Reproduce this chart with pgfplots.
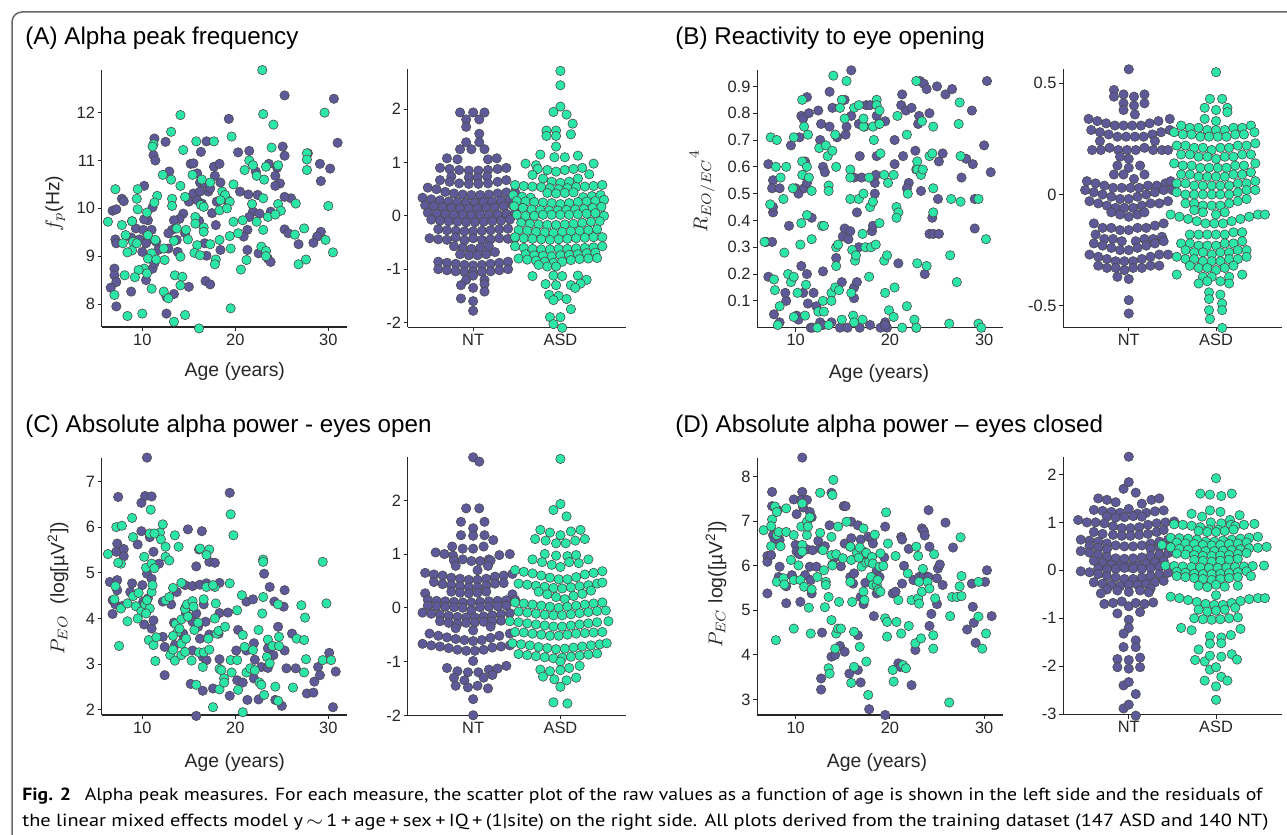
\documentclass[border=0pt]{standalone}
\usepackage{fontspec}
\setmainfont{Liberation Sans}
\newfontfamily\capfont{PT Sans}
\usepackage{graphicx}
\usepackage{pgfplots}
\pgfplotsset{compat=1.18}
\definecolor{ntpurple}{RGB}{94,89,153}
\definecolor{asdgreen}{RGB}{44,230,168}
\definecolor{axgray}{RGB}{38,38,38}

\pgfplotsset{
  panel/.style={scale only axis, anchor=south west, axis lines*=left,
    axis line style={-, axgray, line width=0.6pt},
    every tick/.style={axgray, line width=0.5pt},
    tick align=outside, major tick length=2pt, clip=false, enlargelimits=false,
    ticklabel style={font=\fontsize{8.2}{9}\selectfont, text=axgray, inner sep=1.2pt},
    xlabel style={font=\fontsize{9.7}{11}\selectfont, text=axgray, anchor=center},
    ylabel style={font=\fontsize{9.7}{11}\selectfont, text=axgray, anchor=center}},
  scat/.style={panel, width=122.6pt, height=128.7pt, xtick={10,20,30}, xticklabels={10,20,30}},
  swarm/.style={panel, width=109.1pt, height=129pt, xmin=0.25, xmax=2.75,
    xtick={1,2}, xticklabels={NT,ASD}},
  nt/.style={only marks, mark=*, mark size=2.35pt,
    mark options={fill=ntpurple, draw=black!70, line width=0.3pt}},
  asd/.style={only marks, mark=*, mark size=2.35pt,
    mark options={fill=asdgreen, draw=black!70, line width=0.3pt}},
}

\begin{document}
\begin{tikzpicture}
\path[use as bounding box] (0,0) rectangle (643.5pt,417.5pt);
\draw[black!60, line width=0.75pt, rounded corners=5pt] (6pt,0pt) -- (6pt,411.5pt) -- (643.5pt,411.5pt);

% titles
\node[anchor=base west, inner sep=0, font=\fontsize{12.1}{14}\selectfont] at (12.5pt,395.3pt) {(A) Alpha peak frequency};
\node[anchor=base west, inner sep=0, font=\fontsize{12.1}{14}\selectfont] at (337.5pt,395.3pt) {(B) Reactivity to eye opening};
\node[anchor=base west, inner sep=0, font=\fontsize{12.1}{14}\selectfont] at (12.5pt,201.4pt) {(C) Absolute alpha power - eyes open};
\node[anchor=base west, inner sep=0, font=\fontsize{12.1}{14}\selectfont] at (337.5pt,201.4pt) {(D) Absolute alpha power -- eyes closed};

% ---------- (A) scatter
\begin{axis}[scat, at={(50.85pt,254pt)}, xmin=5.63, xmax=32, ymin=7.52, ymax=12.9,
  ytick={8,9,10,11,12}, yticklabels={8,9,10,11,12},
  xlabel={Age (years)}, xlabel style={at={(axis description cs:0.543,-0.172)}},
  ylabel={$f_p$(Hz)}, ylabel style={at={(axis description cs:-0.19,0.48)}}]
\addplot[nt] coordinates {
(25.3,12.36)(30.6,12.29)(31.0,11.37)(19.3,11.87)(11.3,11.46)(12.5,11.39)(16.9,11.4)(16.3,11.18)
(11.2,11.11)(11.4,11.0)(20.3,11.17)(21.5,11.2)(25.3,11.1)(25.1,11.29)(27.8,11.15)(29.1,10.93)
(30.2,10.83)(29.2,10.57)(15.2,10.93)(15.5,10.94)(17.7,10.87)(18.3,10.93)(23.6,10.93)(24.5,10.85)
(12.9,10.77)(15.9,10.73)(17.8,10.68)(22.2,10.77)(24.3,10.68)(10.2,10.47)(18.4,10.54)(16.2,10.54)
(16.7,10.52)(24.8,10.52)(24.3,10.47)(17.1,10.35)(15.5,10.31)(16.2,10.35)(20.5,10.35)(21.4,10.29)
(22.4,10.28)(26.0,10.21)(25.3,10.24)(7.8,10.2)(8.0,10.15)(15.0,10.14)(15.9,10.17)(16.4,10.1)
(18.0,10.14)(19.2,10.17)(17.3,10.42)(6.8,9.95)(7.2,9.98)(11.1,10.02)(14.4,9.89)(17.5,9.9)
(21.9,9.93)(22.6,9.89)(23.8,9.93)(10.6,9.75)(10.2,9.77)(14.0,9.78)(13.4,9.75)(8.9,9.73)
(16.1,9.74)(21.5,9.82)(9.3,9.58)(10.1,9.55)(11.0,9.55)(13.2,9.55)(17.9,9.65)(25.3,9.56)
(25.7,9.48)(21.3,9.55)(20.9,9.41)(29.2,9.51)(28.8,9.41)(28.4,9.28)(8.8,9.39)(9.7,9.35)
(10.7,9.35)(12.8,9.48)(14.6,9.48)(7.1,9.35)(7.2,9.27)(10.4,9.27)(11.5,9.3)(13.7,9.34)
(16.7,9.27)(18.4,9.13)(26.8,9.25)(21.3,9.13)(22.5,9.06)(11.7,9.13)(12.8,9.16)(10.0,9.09)
(16.9,9.01)(23.5,8.95)(23.8,8.88)(13.8,9.09)(7.0,8.74)(7.0,8.6)(7.2,8.46)(6.6,8.34)
(10.4,8.5)(16.8,8.48)(17.3,8.41)(15.0,8.36)(8.8,8.26)(13.4,8.21)(12.6,8.15)(7.2,7.95)
(12.6,7.8)(11.1,8.74)(11.3,8.85)
};
\addplot[asd] coordinates {
(22.9,12.89)(14.1,11.95)(23.0,11.97)(29.6,12.0)(24.1,11.75)(13.1,11.6)(19.6,11.5)(11.2,11.34)
(11.1,11.29)(15.8,11.4)(17.7,11.4)(23.9,11.27)(14.4,11.22)(21.5,11.0)(27.7,11.15)(27.7,11.02)
(21.9,10.9)(23.3,10.87)(24.6,10.9)(21.0,10.8)(27.7,10.8)(12.2,10.7)(15.4,10.7)(22.3,10.68)
(16.4,10.6)(13.1,10.6)(17.3,10.54)(23.1,10.6)(14.1,10.47)(7.1,10.4)(9.5,10.4)(18.6,10.35)
(19.8,10.5)(18.9,10.28)(13.2,10.2)(9.4,10.2)(11.6,10.26)(11.3,10.12)(14.6,10.24)(18.4,10.17)
(19.4,10.14)(16.3,10.07)(21.8,10.09)(23.0,10.21)(24.6,10.09)(26.5,10.1)(30.0,10.05)(13.2,10.05)
(16.6,10.03)(18.3,9.96)(19.1,10.0)(24.9,9.95)(9.5,9.98)(10.5,9.91)(6.3,9.72)(8.9,9.73)
(7.8,9.65)(15.7,9.82)(15.7,9.68)(19.8,9.72)(20.8,9.75)(22.3,9.72)(23.5,9.82)(24.3,9.87)
(13.7,9.58)(14.7,9.55)(16.6,9.6)(16.6,9.51)(23.0,9.55)(27.4,9.58)(8.2,9.44)(10.6,9.44)
(11.4,9.34)(9.0,9.3)(13.4,9.32)(14.9,9.35)(15.9,9.23)(18.3,9.34)(17.3,9.25)(19.4,9.42)
(20.3,9.48)(26.4,9.45)(29.7,9.34)(7.9,9.27)(8.9,9.12)(8.4,9.08)(9.4,9.27)(12.3,9.16)
(11.0,9.06)(15.6,9.07)(16.2,9.02)(19.5,9.16)(22.8,9.2)(23.3,9.11)(23.3,9.0)(10.6,8.95)
(11.5,8.93)(12.4,8.92)(14.1,8.99)(17.9,8.93)(17.8,8.83)(27.6,8.93)(26.8,8.83)(30.5,9.08)
(20.6,8.72)(21.2,8.92)(10.2,8.74)(10.5,8.64)(9.6,8.71)(13.5,8.6)(14.3,8.57)(9.2,8.56)
(8.1,8.6)(14.1,8.39)(11.0,8.32)(12.3,8.26)(12.8,8.12)(7.0,8.19)(8.4,7.75)(10.0,7.8)
(13.4,7.63)(14.6,7.77)(16.1,7.49)(19.5,7.91)
};
\end{axis}

% ---------- (A) swarm
\begin{axis}[swarm, at={(203.85pt,253.85pt)}, ymin=-2.09, ymax=2.75,
  ytick={-2,-1,0,1,2}, yticklabels={-2,-1,0,1,2}]
\addplot[nt] coordinates {
(0.85,1.94)(1.0,1.94)(1.13,1.94)(0.92,1.81)(1.07,1.81)(0.92,1.67)(1.07,1.54)(0.92,1.38)(1.07,1.38)
(0.85,1.25)(0.98,1.25)(1.13,1.25)(0.7,1.08)(0.82,1.06)(1.17,1.06)(1.27,1.08)
(0.62,0.9)(0.73,0.88)(0.84,0.86)(0.95,0.85)(1.06,0.85)(1.17,0.86)(1.28,0.88)(1.38,0.9)
(0.75,0.74)(0.95,0.72)(1.05,0.72)(1.16,0.74)
(0.62,0.67)(0.73,0.64)(0.84,0.61)(0.95,0.6)(1.06,0.6)(1.17,0.61)(1.28,0.64)(1.38,0.67)
(0.48,0.53)(0.58,0.5)
(0.68,0.45)(0.78,0.42)(0.88,0.4)(0.98,0.39)(1.08,0.39)(1.18,0.4)(1.28,0.42)(1.38,0.44)(1.48,0.45)
(0.42,0.34)(0.52,0.31)(0.62,0.29)(0.72,0.27)(0.82,0.26)(0.92,0.25)(1.02,0.25)(1.12,0.26)(1.22,0.27)(1.32,0.29)(1.42,0.31)
(0.45,0.2)(0.55,0.18)(0.65,0.16)(0.75,0.15)(0.85,0.14)(0.95,0.14)(1.05,0.14)(1.15,0.15)(1.25,0.16)(1.35,0.18)(1.45,0.2)
(0.48,0.06)(0.58,0.04)(0.68,0.03)(0.78,0.02)(0.88,0.02)(0.98,0.01)(1.08,0.02)(1.18,0.02)(1.28,0.03)(1.38,0.04)(1.48,0.06)
(0.52,-0.07)(0.62,-0.09)(0.72,-0.1)(0.82,-0.11)(0.92,-0.12)(1.02,-0.12)(1.12,-0.11)(1.22,-0.1)(1.32,-0.09)(1.42,-0.07)
(0.6,-0.25)(0.7,-0.27)(0.8,-0.28)(0.9,-0.29)(1.0,-0.29)(1.1,-0.28)(1.2,-0.27)(1.3,-0.25)(1.4,-0.24)
(0.5,-0.42)(0.6,-0.44)(0.7,-0.45)(0.8,-0.4)(0.9,-0.46)(1.0,-0.42)(1.1,-0.45)(1.2,-0.44)(1.3,-0.42)(1.4,-0.43)(1.48,-0.41)
(0.78,-0.57)(0.88,-0.6)(0.98,-0.62)(1.08,-0.6)(1.18,-0.57)
(0.85,-0.72)(0.95,-0.74)(1.05,-0.74)(1.15,-0.72)(1.25,-0.68)
(0.6,-0.86)(0.7,-0.88)(0.8,-0.9)(0.9,-0.92)(1.0,-0.93)(1.1,-0.92)(1.2,-0.9)(1.3,-0.88)(1.4,-0.86)
(0.6,-1.0)(0.7,-1.02)(0.8,-1.04)(0.9,-1.05)(1.0,-1.05)(1.1,-1.05)(1.2,-1.04)(1.3,-1.02)(1.4,-1.0)
(0.92,-1.2)(1.0,-1.12)(1.13,-1.2)(0.86,-1.3)(1.0,-1.35)(1.13,-1.28)(0.86,-1.55)(1.0,-1.6)(1.13,-1.42)(1.0,-1.78)
};
\addplot[asd] coordinates {
(2.0,2.72)(2.0,2.45)(2.0,2.05)(1.92,1.95)(2.07,1.9)(2.14,1.73)(1.84,1.6)(1.95,1.6)(1.84,1.5)(1.95,1.5)(2.12,1.53)
(1.95,1.3)(1.77,1.15)(1.93,1.1)(2.05,1.1)(2.2,1.13)(1.6,0.98)(1.72,0.95)(2.25,0.9)(2.38,0.98)
(1.74,0.88)(1.85,0.86)(1.95,0.83)(2.05,0.86)(2.15,0.88)
(1.68,0.77)(2.33,0.78)(1.8,0.7)(1.9,0.64)(2.0,0.62)(2.1,0.64)(2.2,0.7)
(1.48,0.58)(1.58,0.56)(1.68,0.55)(1.78,0.54)(1.88,0.52)(1.98,0.5)(2.08,0.52)(2.18,0.54)(2.28,0.55)(2.38,0.56)(2.48,0.58)
(1.85,0.43)(1.95,0.42)(2.05,0.43)(2.15,0.44)(1.46,0.39)(1.56,0.36)(1.66,0.34)(2.26,0.35)(2.36,0.37)(2.46,0.39)
(1.5,0.28)(1.6,0.27)(1.7,0.26)(1.8,0.25)(1.9,0.24)(2.0,0.22)(2.1,0.24)(2.2,0.26)(2.3,0.27)(2.4,0.28)(2.5,0.3)
(1.47,0.18)(1.57,0.15)(1.67,0.12)(1.77,0.11)(1.87,0.1)(1.97,0.1)(2.07,0.11)(2.17,0.12)(2.27,0.13)(2.37,0.15)(2.47,0.17)
(1.5,0.02)(1.6,0.0)(1.7,0.0)(1.8,0.02)(1.9,0.02)(2.0,0.02)(2.1,0.02)(2.2,0.03)(2.3,0.04)(2.4,0.05)(2.5,0.0)
(1.55,-0.13)(1.65,-0.15)(1.75,-0.16)(1.85,-0.17)(1.95,-0.17)(2.05,-0.16)(2.15,-0.15)(2.25,-0.13)(2.35,-0.11)(2.45,-0.1)
(1.52,-0.27)(1.62,-0.28)(1.72,-0.3)(1.82,-0.31)(1.92,-0.32)(2.02,-0.3)(2.12,-0.29)(2.22,-0.28)(2.32,-0.27)(2.42,-0.25)
(1.48,-0.4)(1.58,-0.42)(1.68,-0.43)(1.78,-0.44)(1.88,-0.45)(1.98,-0.44)(2.08,-0.43)(2.18,-0.42)(2.28,-0.41)(2.38,-0.4)(2.48,-0.4)
(1.48,-0.57)(1.58,-0.6)(1.68,-0.62)(1.78,-0.63)(1.88,-0.63)(1.98,-0.62)(2.08,-0.62)(2.18,-0.61)(2.28,-0.6)(2.38,-0.59)(2.48,-0.57)
(1.6,-0.72)(1.7,-0.74)(1.8,-0.75)(1.9,-0.76)(2.0,-0.74)(2.1,-0.73)(2.2,-0.72)(2.3,-0.7)(2.4,-0.69)
(1.52,-0.8)(1.62,-0.82)(1.72,-0.84)(1.82,-0.86)(1.92,-0.88)(2.02,-0.86)(2.12,-0.83)(2.22,-0.81)(2.32,-0.8)(2.42,-0.79)
(1.75,-0.92)(1.85,-0.95)(1.95,-0.95)(1.68,-1.13)(1.92,-1.12)(2.02,-1.13)(2.2,-1.12)(2.3,-1.2)
(1.83,-1.28)(1.95,-1.3)(2.12,-1.3)(2.23,-1.27)(2.17,-1.35)(1.87,-1.48)(1.98,-1.5)(1.92,-1.58)(2.07,-1.56)(2.12,-1.75)
(1.88,-1.9)(2.0,-1.9)(1.92,-2.03)(2.02,-2.1)
};
\end{axis}

% ---------- (B) scatter
\begin{axis}[scat, at={(378.65pt,253.65pt)}, xmin=5.93, xmax=31.95, ymin=0, ymax=0.96,
  ytick={0.1,0.2,0.3,0.4,0.5,0.6,0.7,0.8,0.9}, yticklabels={0.1,0.2,0.3,0.4,0.5,0.6,0.7,0.8,0.9},
  xlabel={Age (years)}, xlabel style={at={(axis description cs:0.496,-0.176)}},
  ylabel={${R_{EO/EC}}^{4}$}, ylabel style={at={(axis description cs:-0.225,0.53)}}]
\addplot[nt] coordinates {
(7.1,0.61)(6.9,0.32)(7.5,0.32)(7.1,0.19)(7.6,0.55)(7.5,0.52)(7.6,0.43)(7.6,0.45)(8.3,0.52)
(7.7,0.05)(8.3,0.02)(9.3,0.38)(9.0,0.1)(8.9,0.13)(9.5,0.68)(10.0,0.52)(10.3,0.5)(10.1,0.045)
(10.3,0.03)(10.6,0.23)(10.4,0.71)(10.6,0.79)(10.8,0.78)(11.2,0.86)(11.4,0.8)(10.9,0.52)(11.2,0.54)
(11.0,0.62)(11.7,0.41)(11.2,0.2)(10.8,0.13)(11.3,0.09)(11.9,0.13)(11.6,0.0)(12.4,0.81)(12.7,0.76)
(12.6,0.7)(12.9,0.21)(12.9,0.6)(13.1,0.58)(12.2,0.08)(12.6,0.02)(13.6,0.88)(13.6,0.75)(13.9,0.82)
(14.4,0.71)(15.2,0.85)(14.3,0.26)(14.9,0.17)(15.2,0.37)(15.0,0.34)(15.6,0.33)(15.8,0.36)(15.4,0.75)
(15.3,0.72)(15.9,0.96)(15.9,0.79)(16.5,0.43)(16.2,0.56)(16.2,0.15)(16.2,0.11)(16.5,0.17)(16.7,0.3)
(16.8,0.64)(17.0,0.56)(16.7,0.76)(17.5,0.83)(17.3,0.75)(17.9,0.83)(18.1,0.36)(18.2,0.38)(18.6,0.79)
(18.4,0.54)(18.5,0.57)(18.4,0.5)(18.6,0.64)(18.8,0.76)(19.5,0.77)(19.7,0.0)(19.5,0.02)(20.5,0.7)
(20.5,0.61)(21.3,0.87)(21.4,0.64)(21.2,0.83)(20.9,0.24)(21.7,0.81)(22.3,0.82)(22.0,0.54)(21.8,0.52)
(22.7,0.66)(22.8,0.59)(23.1,0.79)(23.0,0.76)(23.3,0.51)(23.7,0.2)(23.2,0.92)(23.6,0.91)(23.9,0.89)
(24.2,0.8)(24.2,0.35)(24.6,0.35)(25.0,0.9)(24.5,0.41)(25.2,0.62)(25.2,0.35)(25.1,0.48)(25.6,0.65)
(25.9,0.87)(26.6,0.89)(27.6,0.56)(28.1,0.63)(28.8,0.61)(28.7,0.81)(29.0,0.48)(29.0,0.37)(30.0,0.68)
(30.3,0.92)(30.7,0.58)(11.8,0.0)(12.9,0.01)(13.8,0.02)(14.7,0.0)(15.5,0.0)(16.8,0.0)(17.9,0.01)
(19.0,0.0)(19.5,0.01)(22.8,0.0)
};
\addplot[asd] coordinates {
(6.7,0.32)(7.35,0.71)(8.0,0.7)(7.9,0.6)(7.3,0.46)(7.7,0.18)(7.8,0.14)(8.3,0.08)(8.1,0.01)
(8.4,0.56)(8.7,0.48)(8.8,0.28)(9.0,0.6)(9.2,0.2)(9.5,0.17)(9.8,0.71)(9.7,0.52)(9.8,0.19)
(9.8,0.04)(10.2,0.13)(10.5,0.31)(10.6,0.39)(10.7,0.85)(10.7,0.62)(10.7,0.57)(11.0,0.045)(11.1,0.16)
(11.2,0.42)(10.9,0.75)(11.3,0.72)(11.2,0.6)(11.4,0.56)(11.7,0.51)(11.7,0.33)(12.3,0.0)(12.5,0.67)
(12.8,0.38)(13.0,0.38)(12.9,0.1)(12.4,0.06)(13.0,0.06)(13.2,0.68)(13.4,0.64)(13.5,0.53)(13.5,0.51)
(13.5,0.01)(13.8,0.13)(13.8,0.1)(13.9,0.66)(14.0,0.94)(14.2,0.72)(14.3,0.23)(14.3,0.3)(14.3,0.6)
(14.2,0.15)(14.5,0.31)(14.6,0.14)(14.9,0.85)(14.7,0.82)(14.9,0.03)(15.2,0.78)(15.4,0.92)(15.8,0.59)
(15.8,0.56)(15.8,0.48)(15.9,0.13)(16.0,0.29)(16.2,0.82)(16.1,0.045)(16.2,0.02)(16.3,0.25)(16.4,0.27)
(16.7,0.83)(16.7,0.48)(17.2,0.5)(17.1,0.35)(17.2,0.75)(17.2,0.78)(17.1,0.03)(17.4,0.3)(17.8,0.56)
(17.8,0.19)(17.9,0.45)(18.0,0.3)(18.2,0.47)(18.2,0.75)(18.3,0.7)(18.5,0.31)(18.6,0.85)(18.6,0.83)
(18.9,0.81)(18.9,0.39)(18.9,0.76)(19.0,0.65)(19.4,0.57)(19.4,0.25)(19.8,0.54)(19.7,0.27)(19.5,0.13)
(19.9,0.065)(20.4,0.04)(20.5,0.15)(20.4,0.57)(20.8,0.79)(20.7,0.45)(20.9,0.43)(20.7,0.41)(21.3,0.0)
(21.8,0.08)(21.8,0.72)(21.9,0.5)(22.6,0.03)(22.8,0.0)(22.8,0.92)(22.9,0.62)(22.9,0.59)(22.9,0.24)
(23.4,0.77)(23.3,0.57)(23.5,0.59)(23.9,0.23)(24.2,0.64)(24.5,0.65)(24.6,0.75)(24.6,0.52)(24.6,0.43)
(26.3,0.015)(26.4,0.27)(26.5,0.48)(27.1,0.17)(27.4,0.84)(27.3,0.76)(27.5,0.64)(27.5,0.47)(29.4,0.48)
(29.4,0.015)(29.7,0.0)(30.2,0.33)
};
\end{axis}

% ---------- (B) swarm
\begin{axis}[swarm, at={(531.65pt,253.85pt)}, ymin=-0.597, ymax=0.563,
  ytick={-0.5,0,0.5}, yticklabels={-0.5,0,0.5}]
\addplot[nt] coordinates {
(1.0,0.563)(0.83,0.47)(0.94,0.45)(1.06,0.44)(1.18,0.45)(0.83,0.44)(0.94,0.41)(1.06,0.4)(1.18,0.41)
(0.94,0.38)(1.07,0.36)
(0.54,0.34)(0.64,0.33)(0.74,0.32)(0.84,0.31)(0.94,0.31)(1.04,0.31)(1.14,0.31)(1.24,0.32)(1.34,0.33)(1.47,0.34)
(0.57,0.29)(0.67,0.28)(0.77,0.27)(0.87,0.26)(0.97,0.26)(1.07,0.26)(1.17,0.26)(1.27,0.27)(1.37,0.28)(1.47,0.29)
(0.67,0.24)(1.3,0.24)
(0.58,0.2)(0.68,0.2)(0.78,0.21)(0.88,0.2)(0.98,0.2)(1.08,0.2)(1.18,0.21)(1.28,0.2)(1.38,0.2)(1.45,0.2)
(0.9,0.17)(1.0,0.16)(0.87,0.13)(1.0,0.12)(1.13,0.13)(0.83,0.09)(0.94,0.09)(1.18,0.09)(1.06,0.07)
(0.52,0.06)(0.62,0.05)(0.72,0.04)(0.82,0.03)(0.92,0.03)(1.02,0.03)(1.12,0.03)(1.22,0.04)(1.32,0.04)(1.42,0.05)(1.48,0.06)
(0.5,0.02)(0.6,0.01)(0.7,0.0)(0.8,-0.01)(0.9,-0.02)(1.0,-0.02)(1.1,-0.01)(1.2,0.0)(1.3,0.01)(1.4,0.02)(1.5,0.02)
(0.55,-0.03)(0.65,-0.04)(0.75,-0.05)(0.85,-0.06)(0.95,-0.06)(1.05,-0.06)(1.15,-0.05)(1.25,-0.04)(1.35,-0.04)(1.45,-0.03)
(0.8,-0.08)(0.9,-0.09)(1.0,-0.1)(1.1,-0.09)(1.18,-0.08)
(0.6,-0.13)(0.7,-0.15)(0.8,-0.15)(0.9,-0.16)(1.0,-0.16)(1.1,-0.15)(1.2,-0.15)(1.3,-0.14)(1.4,-0.13)
(0.62,-0.18)(0.72,-0.2)(0.82,-0.2)(0.92,-0.21)(1.08,-0.21)(1.18,-0.2)(1.28,-0.2)(1.38,-0.19)
(0.6,-0.22)(0.7,-0.23)(0.8,-0.24)(0.9,-0.25)(1.0,-0.25)(1.1,-0.24)(1.2,-0.23)(1.3,-0.22)(1.4,-0.21)
(0.55,-0.27)(0.65,-0.28)(0.75,-0.29)(0.85,-0.3)(0.95,-0.3)(1.05,-0.3)(1.15,-0.29)(1.25,-0.28)(1.35,-0.27)(1.45,-0.27)
(0.65,-0.32)(0.75,-0.33)(0.85,-0.33)(0.95,-0.34)(1.05,-0.33)(1.15,-0.33)(1.25,-0.32)(1.35,-0.32)
(0.87,-0.37)(1.0,-0.38)(1.0,-0.475)(1.0,-0.535)
};
\addplot[asd] coordinates {
(2.0,0.55)(1.93,0.43)(2.07,0.43)(1.87,0.39)(2.0,0.38)(2.13,0.39)(2.13,0.37)(1.87,0.34)(2.0,0.33)
(1.6,0.31)(1.7,0.3)(1.8,0.3)(1.9,0.29)(2.0,0.29)(2.1,0.29)(2.2,0.3)(2.3,0.3)(2.4,0.31)
(1.52,0.28)(1.62,0.27)(1.72,0.27)(1.82,0.26)(1.92,0.26)(2.02,0.26)(2.12,0.26)(2.22,0.27)(2.32,0.27)(2.44,0.28)
(1.55,0.22)(1.65,0.22)(1.75,0.21)(1.85,0.21)(1.95,0.2)(2.05,0.21)(2.15,0.21)(2.25,0.22)(2.35,0.22)(2.45,0.23)
(1.6,0.18)(1.7,0.18)(1.8,0.17)(1.9,0.17)(2.0,0.16)(2.1,0.17)(2.2,0.17)(2.3,0.18)(2.4,0.18)
(1.52,0.14)(1.62,0.13)(1.72,0.13)(1.82,0.12)(1.92,0.12)(2.02,0.12)(2.12,0.12)(2.22,0.13)(2.32,0.13)(2.45,0.14)
(1.6,0.09)(1.7,0.09)(1.8,0.08)(1.9,0.08)(2.0,0.08)(2.1,0.08)(2.2,0.09)(2.3,0.09)(2.4,0.1)
(1.55,0.05)(1.65,0.05)(1.75,0.04)(1.85,0.04)(1.95,0.04)(2.05,0.04)(2.15,0.04)(2.25,0.05)(2.35,0.05)(2.45,0.06)
(1.55,0.01)(1.65,0.0)(1.75,0.0)(1.85,0.0)(1.95,0.0)(2.05,0.0)(2.15,0.0)(2.25,0.01)(2.35,0.02)(2.45,0.02)
(1.65,-0.04)(1.75,-0.04)(1.85,-0.05)(1.95,-0.05)(2.05,-0.05)(2.15,-0.04)(2.25,-0.03)(2.35,-0.02)
(1.75,-0.07)(1.85,-0.08)(2.0,-0.09)(2.1,-0.08)
(1.48,-0.09)(1.58,-0.1)(1.68,-0.11)(1.78,-0.12)(1.88,-0.13)(1.98,-0.13)(2.08,-0.13)(2.18,-0.12)(2.28,-0.11)(2.38,-0.1)(2.48,-0.09)(2.56,-0.09)
(1.7,-0.18)(1.8,-0.18)(1.9,-0.18)(2.0,-0.18)(2.1,-0.18)(2.2,-0.17)(2.3,-0.17)
(1.6,-0.22)(1.7,-0.22)(1.8,-0.23)(1.9,-0.23)(2.0,-0.23)(2.1,-0.22)(2.2,-0.22)(2.3,-0.21)
(1.65,-0.25)(1.75,-0.26)(1.85,-0.26)(1.95,-0.27)(2.05,-0.26)(2.15,-0.26)(2.25,-0.25)(2.35,-0.25)
(1.55,-0.28)(1.65,-0.29)(1.75,-0.29)(1.85,-0.3)(1.95,-0.3)(2.05,-0.3)(2.15,-0.29)(2.25,-0.29)(2.35,-0.28)
(1.7,-0.32)(1.8,-0.33)(1.9,-0.33)(2.0,-0.34)(2.1,-0.33)(2.2,-0.32)
(1.55,-0.36)(1.85,-0.37)(1.95,-0.37)(2.15,-0.37)(2.3,-0.36)
(1.8,-0.4)(1.9,-0.39)(2.05,-0.39)(2.15,-0.4)
(1.92,-0.44)(2.05,-0.45)(1.92,-0.47)(2.07,-0.49)(1.92,-0.52)(2.07,-0.52)(1.93,-0.56)(2.07,-0.6)
};
\end{axis}

% ---------- (C) scatter
\begin{axis}[scat, at={(50.85pt,60pt)}, xmin=5.63, xmax=32, ymin=1.89, ymax=7.52,
  ytick={2,3,4,5,6,7}, yticklabels={2,3,4,5,6,7},
  xlabel={Age (years)}, xlabel style={at={(axis description cs:0.543,-0.184)}},
  ylabel={$P_{EO}$\ \ (log[µV\textsuperscript{2}])}, ylabel style={at={(axis description cs:-0.178,0.493)}}]
\addplot[nt] coordinates {
(10.5,7.52)(7.4,6.66)(9.9,6.53)(10.3,6.68)(11.0,6.67)(19.4,6.75)(9.9,5.91)(10.8,5.78)(14.9,5.95)
(16.4,5.91)(7.3,5.64)(7.2,5.46)(8.0,5.52)(8.0,5.36)(9.5,5.62)(11.2,5.46)(11.8,5.2)(16.1,5.51)
(15.8,5.14)(17.2,5.24)(17.8,5.22)(23.1,4.98)(6.5,4.8)(7.3,4.84)(7.3,4.62)(8.9,4.77)(8.7,4.58)
(10.0,4.73)(10.5,4.98)(11.0,4.87)(14.6,4.73)(15.4,4.71)(16.2,4.74)(16.9,4.77)(18.3,4.78)(13.7,4.58)
(6.8,4.4)(7.1,4.31)(7.8,4.27)(10.1,4.37)(10.6,4.44)(12.2,4.37)(13.1,4.31)(14.6,4.22)(15.4,4.26)
(16.6,4.31)(21.2,4.37)(21.9,4.42)(23.7,4.69)(24.2,4.37)(25.3,4.62)(25.2,4.26)(6.8,4.1)(10.2,3.87)
(11.0,3.78)(11.2,3.96)(13.4,3.91)(14.7,4.11)(15.4,3.93)(15.8,4.11)(16.0,3.82)(16.8,3.93)(18.3,4.12)
(19.2,4.13)(17.2,3.65)(16.2,3.56)(18.2,3.67)(20.3,3.75)(24.6,3.82)(26.1,3.67)(12.2,3.6)(12.4,3.38)
(13.5,3.42)(14.4,3.67)(14.4,3.53)(15.4,3.3)(16.5,3.16)(16.9,3.09)(20.1,3.3)(21.2,3.3)(22.0,3.46)
(23.5,3.35)(24.1,3.2)(25.3,3.3)(22.1,3.1)(22.8,2.94)(23.5,2.92)(25.5,2.91)(26.5,2.91)(28.9,2.94)
(29.1,2.76)(28.5,2.62)(30.1,3.25)(30.8,2.84)(12.4,2.76)(18.3,3.11)(15.2,2.57)(16.5,2.42)(17.6,2.47)
(20.2,2.65)(20.8,2.6)(22.0,2.69)(21.3,2.22)(22.5,2.23)(24.3,2.22)(25.0,2.09)(27.7,2.36)(28.4,2.38)
(30.5,2.06)(19.4,2.31)(15.8,1.87)
};
\addplot[asd] coordinates {
(6.3,5.41)(7.2,6.0)(7.8,6.03)(8.9,6.2)(10.9,6.38)(12.2,6.06)(11.9,5.88)(9.0,5.78)(10.8,5.86)
(11.3,5.86)(12.0,5.73)(12.5,5.57)(13.5,5.82)(13.9,5.57)(19.5,6.28)(19.8,5.82)(7.7,5.2)(7.4,5.22)
(10.2,5.35)(10.4,5.11)(11.0,5.2)(11.3,5.1)(12.5,5.35)(12.9,5.27)(16.2,5.53)(17.2,5.51)(16.9,5.39)
(23.0,5.29)(23.0,5.24)(29.4,5.24)(7.1,4.71)(7.0,4.42)(7.7,4.22)(8.4,4.33)(9.0,4.49)(9.6,4.56)
(9.3,4.27)(9.9,4.16)(9.5,4.0)(8.4,3.94)(10.3,4.31)(10.5,4.4)(11.0,4.58)(11.1,4.73)(10.8,4.22)
(10.4,4.11)(7.5,3.4)(10.7,3.53)(11.2,3.42)(11.5,3.59)(11.4,3.07)(12.5,4.4)(12.9,4.47)(13.3,4.67)
(13.6,3.88)(13.8,3.71)(13.3,3.62)(14.0,3.78)(14.2,3.98)(14.6,4.2)(14.2,4.78)(14.8,4.31)(14.9,4.04)
(13.0,3.2)(13.5,3.08)(13.3,3.32)(14.2,3.2)(14.6,3.27)(14.2,3.45)(14.7,3.56)(15.4,4.38)(15.5,4.26)
(15.6,3.75)(16.0,3.91)(15.3,3.08)(15.8,2.55)(16.1,3.26)(16.5,2.94)(16.6,3.26)(16.6,4.42)(16.9,4.69)
(17.2,3.32)(17.1,3.56)(17.8,4.69)(17.6,4.73)(17.9,4.33)(17.8,4.0)(18.0,3.67)(18.2,3.73)(18.3,2.9)
(18.3,2.45)(18.5,2.87)(18.8,2.69)(18.8,2.6)(18.9,3.82)(19.4,4.77)(19.5,3.09)(19.6,2.82)(20.2,4.18)
(20.2,3.09)(20.3,2.44)(20.7,4.51)(20.8,3.64)(21.0,3.38)(20.8,1.95)(17.6,2.06)(21.2,2.82)(21.6,2.91)
(21.9,3.31)(22.1,2.87)(22.5,3.75)(22.6,2.6)(22.8,2.55)(23.1,2.33)(23.0,4.47)(22.9,4.11)(23.4,3.16)
(23.5,3.54)(23.7,3.02)(24.0,3.4)(24.3,2.51)(24.7,3.4)(24.7,3.6)(24.6,4.31)(24.6,2.2)(26.2,2.49)
(26.6,3.56)(27.1,4.29)(27.5,4.02)(27.4,3.53)(27.4,2.82)(27.6,3.11)(29.4,3.09)(29.8,4.33)(30.3,3.09)
};
\end{axis}

% ---------- (C) swarm
\begin{axis}[swarm, at={(203.85pt,59.85pt)}, ymin=-2, ymax=2.8,
  ytick={-2,-1,0,1,2}, yticklabels={-2,-1,0,1,2}]
\addplot[nt] coordinates {
(1.0,2.8)(1.07,2.72)(0.92,1.85)(1.07,1.85)(0.86,1.6)(1.13,1.6)(1.0,1.48)
(0.86,1.35)(1.0,1.34)(1.13,1.35)(1.23,1.26)(0.76,1.14)(0.88,1.1)(1.0,1.1)(1.12,1.14)
(0.57,1.03)(0.67,1.0)(0.77,0.97)(0.88,0.9)(0.98,0.87)(1.08,0.87)(1.18,0.9)(1.3,0.98)(1.42,1.0)
(0.78,0.88)(1.2,0.88)(0.8,0.78)(1.05,0.7)(1.17,0.78)
(0.45,0.65)(0.55,0.62)(0.65,0.6)(0.75,0.56)(0.85,0.54)(0.95,0.52)(1.05,0.52)(1.15,0.54)(1.25,0.58)(1.35,0.6)(1.45,0.63)
(0.55,0.48)(0.65,0.44)(0.75,0.42)(0.85,0.4)(0.95,0.38)(1.05,0.38)(1.15,0.41)(1.25,0.45)(1.35,0.46)
(0.75,0.3)(0.85,0.28)(0.95,0.27)(1.05,0.28)(1.15,0.3)(0.45,0.27)(1.45,0.25)
(0.48,0.15)(0.58,0.13)(0.68,0.12)(0.78,0.11)(0.88,0.1)(0.98,0.1)(1.08,0.11)(1.18,0.12)(1.28,0.13)(1.38,0.14)(1.48,0.15)
(0.48,0.04)(0.58,0.03)(0.68,0.02)(0.78,0.01)(0.88,0.0)(0.98,-0.05)(1.08,0.01)(1.18,0.02)(1.28,0.03)(1.38,0.04)
(0.42,-0.09)(0.52,-0.11)(0.62,-0.13)(0.72,-0.15)(0.82,-0.17)(0.92,-0.18)(1.02,-0.18)(1.12,-0.16)(1.22,-0.14)(1.32,-0.12)(1.42,-0.1)
(0.62,-0.25)(0.72,-0.28)(0.82,-0.3)(0.92,-0.28)(1.02,-0.27)(1.12,-0.26)(1.22,-0.25)(1.32,-0.24)
(0.8,-0.38)(1.0,-0.42)(1.2,-0.35)
(0.5,-0.48)(0.6,-0.52)(0.7,-0.55)(0.8,-0.58)(0.9,-0.6)(1.0,-0.62)(1.1,-0.6)(1.2,-0.56)(1.3,-0.52)(1.42,-0.48)
(0.42,-0.67)(0.52,-0.7)(0.62,-0.72)(0.72,-0.75)(0.82,-0.78)(0.92,-0.8)(1.02,-0.8)(1.12,-0.78)(1.22,-0.74)(1.32,-0.72)(1.42,-0.7)
(1.0,-0.99)(0.7,-1.12)(0.82,-1.18)(0.94,-1.2)(1.06,-1.2)(1.18,-1.15)(1.28,-1.13)(1.38,-1.08)
(0.78,-1.3)(0.9,-1.35)(1.12,-1.3)(1.22,-1.25)(0.8,-1.45)(0.94,-1.48)(1.05,-1.45)(1.17,-1.5)(1.0,-1.7)(1.0,-2.0)
};
\addplot[asd] coordinates {
(2.0,2.77)(2.0,1.93)(1.92,1.82)(2.07,1.7)(1.77,1.45)(1.88,1.4)(2.0,1.35)(2.12,1.42)(2.23,1.45)
(1.71,1.28)(1.83,1.25)(1.95,1.2)(2.06,1.2)(2.17,1.25)(2.28,1.28)(1.82,1.0)(1.95,0.97)(2.08,0.96)(2.18,0.98)
(1.68,0.9)(1.79,0.85)(1.9,0.8)(2.0,0.76)(2.1,0.85)(2.21,0.83)(2.32,0.9)
(1.48,0.7)(1.58,0.67)(1.68,0.64)(1.78,0.6)(1.88,0.56)(1.98,0.53)(2.08,0.53)(2.18,0.57)(2.28,0.62)(2.38,0.65)(2.48,0.68)
(1.52,0.45)(1.62,0.43)(1.72,0.41)(1.82,0.39)(1.92,0.37)(2.02,0.36)(2.12,0.38)(2.22,0.4)(2.32,0.42)(2.42,0.45)(2.48,0.47)
(1.75,0.3)(1.85,0.25)(1.95,0.2)(2.05,0.16)(2.15,0.22)(2.25,0.26)(2.35,0.32)
(1.48,0.1)(1.58,0.08)(1.68,0.06)(1.78,0.04)(1.88,0.02)(1.98,0.0)(2.08,0.02)(2.18,0.04)(2.28,0.06)(2.38,0.08)(2.48,0.1)
(1.52,-0.07)(1.62,-0.09)(1.72,-0.11)(1.82,-0.13)(1.92,-0.14)(2.02,-0.14)(2.12,-0.12)(2.22,-0.1)(2.32,-0.08)(2.42,-0.06)(2.52,-0.05)
(1.42,-0.25)(1.52,-0.27)(1.62,-0.29)(1.72,-0.31)(1.82,-0.33)(1.92,-0.35)(2.02,-0.35)(2.12,-0.33)(2.22,-0.31)(2.32,-0.29)(2.42,-0.27)(2.55,-0.25)
(1.48,-0.45)(1.58,-0.46)(1.68,-0.48)(1.78,-0.5)(1.88,-0.52)(1.98,-0.52)(2.08,-0.5)(2.18,-0.48)(2.28,-0.47)(2.38,-0.46)(2.48,-0.45)
(1.45,-0.66)(1.55,-0.68)(1.65,-0.7)(1.75,-0.73)(1.85,-0.75)(1.95,-0.77)(2.05,-0.76)(2.15,-0.74)(2.25,-0.72)(2.35,-0.7)(2.45,-0.68)(2.53,-0.66)
(1.52,-0.86)(1.62,-0.88)(1.72,-0.9)(1.82,-0.92)(1.92,-0.94)(2.02,-0.93)(2.12,-0.91)(2.22,-0.89)(2.32,-0.87)(2.42,-0.85)
(2.0,-1.0)(1.77,-1.15)(1.88,-1.18)(2.0,-1.16)(2.1,-1.12)(2.22,-1.08)(1.8,-1.28)(1.93,-1.33)(2.07,-1.35)(2.18,-1.3)
(2.0,-1.47)(1.92,-1.76)(2.08,-1.78)
};
\end{axis}

% ---------- (D) scatter
\begin{axis}[scat, at={(378.65pt,60pt)}, xmin=5.93, xmax=31.95, ymin=2.65, ymax=8.43,
  ytick={3,4,5,6,7,8}, yticklabels={3,4,5,6,7,8},
  xlabel={Age (years)}, xlabel style={at={(axis description cs:0.488,-0.184)}},
  ylabel={$P_{EC}$ log([µV\textsuperscript{2}])}, ylabel style={at={(axis description cs:-0.168,0.508)}}]
\addplot[nt] coordinates {
(10.7,8.43)(7.5,7.66)(10.7,7.66)(13.8,7.64)(7.5,7.34)(8.1,7.25)(9.8,7.49)(10.6,7.48)(11.2,7.48)
(15.1,7.34)(15.3,7.34)(10.8,7.31)(10.1,7.16)(11.5,7.21)(24.1,7.25)(11.7,7.09)(13.6,6.91)(15.9,6.99)
(16.6,6.91)(19.5,6.88)(25.9,6.97)(23.4,6.84)(23.6,6.78)(23.7,6.68)(26.7,6.41)(7.0,6.22)(7.0,6.09)
(7.4,6.24)(7.6,6.69)(7.8,6.59)(8.3,5.98)(8.3,6.58)(10.0,6.47)(10.1,6.32)(10.4,6.26)(11.2,6.37)
(11.8,6.35)(12.4,6.56)(12.6,6.39)(13.1,6.44)(13.9,6.03)(14.3,6.2)(14.8,5.99)(15.2,6.5)(15.8,6.43)
(15.9,6.62)(16.5,6.2)(16.9,6.59)(17.2,6.32)(17.5,6.11)(17.7,6.65)(18.1,6.61)(18.2,6.5)(19.4,6.19)
(21.2,6.65)(21.3,6.59)(21.5,6.0)(22.0,6.38)(24.2,6.43)(25.1,5.94)(25.3,6.03)(7.0,5.38)(8.2,5.75)
(9.0,5.54)(9.6,5.79)(9.0,5.16)(10.5,5.19)(11.0,5.79)(11.5,5.98)(12.2,5.98)(11.6,5.68)(11.7,5.38)
(15.8,5.75)(16.1,5.6)(16.2,5.83)(16.9,5.3)(17.2,5.14)(17.4,5.62)(17.7,6.2)(18.6,5.38)(18.6,5.89)
(18.9,5.75)(20.3,5.38)(20.6,5.42)(21.3,5.6)(22.5,5.68)(23.1,5.75)(23.6,5.79)(24.1,5.75)(25.0,5.72)
(25.0,5.14)(25.6,5.57)(28.7,5.6)(30.1,5.64)(30.3,5.9)(18.3,4.87)(24.4,4.92)(24.2,4.65)(28.8,5.08)
(28.9,4.72)(28.2,4.57)(29.1,4.27)(30.8,4.87)(12.8,4.5)(16.6,4.44)(14.7,4.2)(15.2,4.07)(13.8,3.96)
(14.2,4.0)(12.7,3.47)(12.7,3.22)(15.7,3.58)(16.6,3.66)(16.9,3.38)(20.9,3.81)(21.1,3.73)(22.3,3.32)
(22.7,4.11)(17.8,2.78)(19.5,2.65)
};
\addplot[asd] coordinates {
(6.6,6.8)(7.5,7.04)(7.4,6.89)(7.4,6.44)(7.8,7.33)(8.0,7.21)(8.0,6.69)(8.0,5.64)(8.2,6.76)
(8.4,6.44)(7.9,4.33)(9.0,7.29)(9.0,6.76)(8.7,5.72)(8.8,5.58)(9.5,6.13)(9.8,6.69)(9.8,5.68)
(9.8,4.59)(10.3,6.01)(10.5,5.68)(10.6,6.88)(10.7,7.4)(10.7,6.47)(10.7,6.32)(11.2,6.69)(11.2,6.99)
(11.5,7.09)(11.3,6.88)(10.9,5.53)(11.4,5.06)(11.7,5.47)(11.6,4.48)(12.3,5.75)(12.6,7.64)(12.6,6.74)
(12.9,6.35)(13.0,5.9)(13.1,5.07)(13.2,5.64)(13.2,5.57)(13.5,5.3)(13.8,6.65)(13.8,6.24)(14.0,7.93)
(13.9,7.59)(13.9,6.01)(13.8,4.78)(13.5,3.7)(13.6,3.58)(14.2,4.14)(14.3,4.48)(14.5,4.59)(14.8,4.59)
(14.6,5.19)(14.3,6.26)(14.5,6.88)(15.0,6.17)(15.4,6.99)(15.8,6.43)(15.9,6.13)(15.8,5.64)(16.0,5.19)
(16.2,4.52)(16.2,3.73)(15.9,3.37)(16.5,6.29)(16.7,6.18)(16.8,6.41)(16.8,4.18)(17.0,5.98)(17.2,5.42)
(17.2,6.84)(17.3,5.23)(17.5,6.07)(17.5,6.29)(17.8,6.09)(18.0,5.75)(18.1,6.2)(18.2,6.05)(18.4,6.7)
(18.2,5.57)(18.6,5.57)(18.7,5.68)(18.9,5.98)(18.8,5.46)(19.0,6.28)(19.0,5.42)(19.3,6.0)(17.7,3.1)
(17.5,3.85)(19.5,4.82)(19.7,4.74)(19.7,4.41)(19.6,7.2)(19.8,6.5)(20.4,3.4)(20.3,3.66)(20.6,6.22)
(20.7,4.74)(20.9,5.23)(21.2,4.48)(21.4,3.77)(21.7,3.7)(22.0,4.65)(21.9,5.83)(22.3,5.23)(22.7,4.26)
(22.8,6.43)(23.0,6.22)(23.0,5.27)(23.1,5.64)(23.1,5.15)(23.3,4.37)(23.4,5.42)(23.5,5.93)(24.0,5.64)
(24.2,5.49)(24.6,4.14)(24.6,4.44)(24.7,6.26)(24.8,5.27)(26.4,4.87)(26.3,2.93)(26.6,5.3)(27.1,5.3)
(27.6,5.32)(27.4,5.54)(27.6,5.77)(27.5,6.64)(29.4,5.64)(29.4,4.86)(29.8,4.14)(30.2,4.48)
};
\end{axis}

% ---------- (D) swarm
\begin{axis}[swarm, at={(531.65pt,60.15pt)}, ymin=-3.01, ymax=2.37,
  ytick={-3,-2,-1,0,1,2}, yticklabels={-3,-2,-1,0,1,2}]
\addplot[nt] coordinates {
(1.0,2.37)(1.0,1.84)(0.94,1.7)(1.08,1.62)(0.65,1.5)(0.75,1.47)(0.85,1.42)(1.26,1.47)(1.35,1.5)(1.15,1.39)
(0.6,1.26)(0.7,1.24)(0.8,1.22)(0.9,1.2)(1.0,1.28)(1.1,1.18)(1.2,1.2)(1.3,1.23)(1.4,1.25)
(0.75,1.12)(0.85,1.1)(0.95,1.11)(1.05,1.13)(1.15,1.12)
(0.42,1.05)(0.52,1.0)(0.62,1.0)(0.72,0.98)(0.82,0.92)(0.92,0.88)(1.02,0.88)(1.12,0.9)(1.22,0.95)(1.32,0.98)(1.42,1.0)(1.52,1.02)
(0.6,0.8)(0.7,0.76)(0.82,0.74)(0.92,0.72)(1.02,0.72)(1.12,0.74)(1.22,0.76)(1.32,0.8)(1.4,0.84)
(0.45,0.64)(0.55,0.62)(0.65,0.6)(0.75,0.56)(0.85,0.52)(0.95,0.5)(1.05,0.5)(1.15,0.52)(1.25,0.56)(1.35,0.6)(1.45,0.64)
(0.55,0.5)(0.65,0.47)(0.75,0.44)(1.25,0.45)(1.35,0.48)(1.45,0.5)
(0.45,0.4)(0.55,0.37)(0.65,0.33)(0.75,0.28)(0.85,0.25)(0.95,0.24)(1.05,0.25)(1.15,0.27)(1.25,0.3)(1.35,0.33)(1.45,0.36)(1.5,0.4)
(0.6,0.2)(0.7,0.16)(0.8,0.12)(0.9,0.1)(1.0,0.08)(1.1,0.1)(1.2,0.14)(1.3,0.17)(1.4,0.2)
(0.65,0.04)(0.75,0.02)(0.85,0.03)(0.95,0.05)(1.05,0.04)(1.15,0.03)(1.25,0.05)(1.35,0.07)
(0.45,-0.02)(0.55,-0.04)(0.65,-0.08)(0.75,-0.12)(0.85,-0.15)(0.95,-0.18)(1.05,-0.18)(1.15,-0.15)(1.25,-0.12)(1.35,-0.08)(1.45,-0.05)(1.55,-0.02)
(0.6,-0.25)(0.7,-0.28)(0.8,-0.3)(0.9,-0.33)(1.0,-0.3)(1.1,-0.3)(1.2,-0.28)(1.3,-0.25)(1.4,-0.22)
(0.75,-0.4)(0.87,-0.42)(1.0,-0.45)(1.13,-0.42)(1.25,-0.38)(0.68,-0.48)(1.23,-0.46)
(0.72,-0.7)(0.82,-0.68)(0.92,-0.65)(1.0,-0.75)(1.08,-0.68)(1.18,-0.7)(1.28,-0.67)
(0.87,-0.9)(1.13,-0.87)(1.0,-1.03)(1.0,-1.2)(0.94,-1.32)(1.08,-1.46)(0.94,-1.6)(1.08,-1.6)
(0.87,-1.85)(1.0,-1.87)(1.13,-1.82)(0.87,-2.02)(1.0,-2.05)(1.13,-2.02)
(0.94,-2.4)(1.0,-2.33)(1.08,-2.58)(0.94,-2.88)(1.0,-2.8)(1.08,-3.03)
};
\addplot[asd] coordinates {
(2.0,1.92)(1.82,1.6)(1.93,1.58)(2.06,1.55)(2.18,1.6)
(1.72,1.18)(1.84,1.12)(1.93,1.25)(2.05,1.22)(2.16,1.05)(2.27,1.15)(1.94,1.0)(2.06,0.98)(2.17,0.95)
(1.52,0.96)(1.62,0.95)(1.72,0.93)(1.82,0.9)(1.92,0.85)(2.02,0.85)(2.22,0.92)(2.32,0.95)(2.44,0.97)
(1.8,0.82)(1.9,0.8)(2.0,0.8)(2.1,0.82)(2.2,0.85)
(1.48,0.68)(1.58,0.67)(1.68,0.66)(1.78,0.64)(1.88,0.6)(1.98,0.6)(2.08,0.62)(2.18,0.64)(2.28,0.66)(2.38,0.68)(2.48,0.7)
(1.55,0.58)(1.65,0.56)(1.75,0.55)(1.85,0.53)(1.95,0.52)(2.05,0.53)(2.15,0.55)(2.25,0.56)(2.35,0.58)
(1.38,0.53)(1.48,0.48)(1.58,0.45)(1.68,0.43)(1.78,0.42)(1.88,0.4)(1.98,0.4)(2.08,0.41)(2.18,0.42)(2.28,0.44)(2.38,0.46)(2.48,0.47)(2.58,0.49)
(1.55,0.35)(1.65,0.33)(1.75,0.32)(1.85,0.3)(1.95,0.3)(2.05,0.31)(2.15,0.32)(2.25,0.34)(2.35,0.36)
(1.75,0.22)(1.85,0.2)(1.95,0.18)(2.05,0.2)(2.15,0.22)(2.25,0.24)
(1.42,0.1)(1.52,0.09)(1.62,0.08)(1.72,0.07)(1.82,0.06)(1.92,0.05)(2.02,0.05)(2.12,0.06)(2.22,0.07)(2.32,0.08)(2.42,0.09)(2.55,0.1)
(1.55,-0.03)(1.65,-0.05)(1.75,-0.07)(1.85,-0.08)(1.95,-0.08)(2.05,-0.07)(2.15,-0.06)(2.25,-0.04)(2.35,-0.02)
(1.55,-0.12)(1.65,-0.14)(1.75,-0.16)(1.85,-0.18)(1.95,-0.2)(2.05,-0.18)(2.15,-0.16)(2.25,-0.14)(2.4,-0.12)
(1.8,-0.32)(1.9,-0.35)(2.0,-0.3)(2.1,-0.34)(2.25,-0.32)(2.0,-0.52)
(1.48,-0.55)(1.58,-0.58)(1.68,-0.62)(1.78,-0.66)(1.88,-0.7)(1.98,-0.72)(2.08,-0.72)(2.18,-0.68)(2.28,-0.64)(2.38,-0.6)(2.48,-0.58)(2.56,-0.58)
(1.8,-0.82)(1.9,-0.86)(2.0,-0.84)(2.1,-0.82)(2.22,-0.78)
(1.75,-1.0)(1.85,-1.02)(1.95,-1.03)(2.05,-1.02)(2.15,-1.0)(2.25,-0.98)
(1.6,-1.2)(1.72,-1.25)(2.28,-1.22)(1.93,-1.37)(2.06,-1.4)(2.17,-1.35)(1.93,-1.53)(2.06,-1.52)(1.8,-1.65)
(1.76,-1.87)(1.87,-1.9)(1.93,-1.78)(2.06,-1.8)(2.18,-1.75)(2.24,-1.86)(1.93,-2.07)(2.0,-2.02)
(1.87,-2.3)(2.06,-2.22)(2.13,-2.3)(2.0,-2.42)(2.0,-2.7)
};
\end{axis}

% caption
\node[anchor=base west, inner sep=0] at (11pt,17pt) {\resizebox{620pt}{\height}{\capfont\fontsize{8.8}{10}\selectfont\textbf{Fig. 2}\hspace{0.7em}Alpha peak measures. For each measure, the scatter plot of the raw values as a function of age is shown in the left side and the residuals of}};
\node[anchor=base west, inner sep=0] at (11pt,4.4pt) {\resizebox{623pt}{\height}{\capfont\fontsize{8.8}{10}\selectfont the linear mixed effects model y\,$\sim$\,1\,+\,age\,+\,sex\,+\,IQ\,+\,(1|site) on the right side. All plots derived from the training dataset (147 ASD and 140 NT)}};
\end{tikzpicture}
\end{document}
